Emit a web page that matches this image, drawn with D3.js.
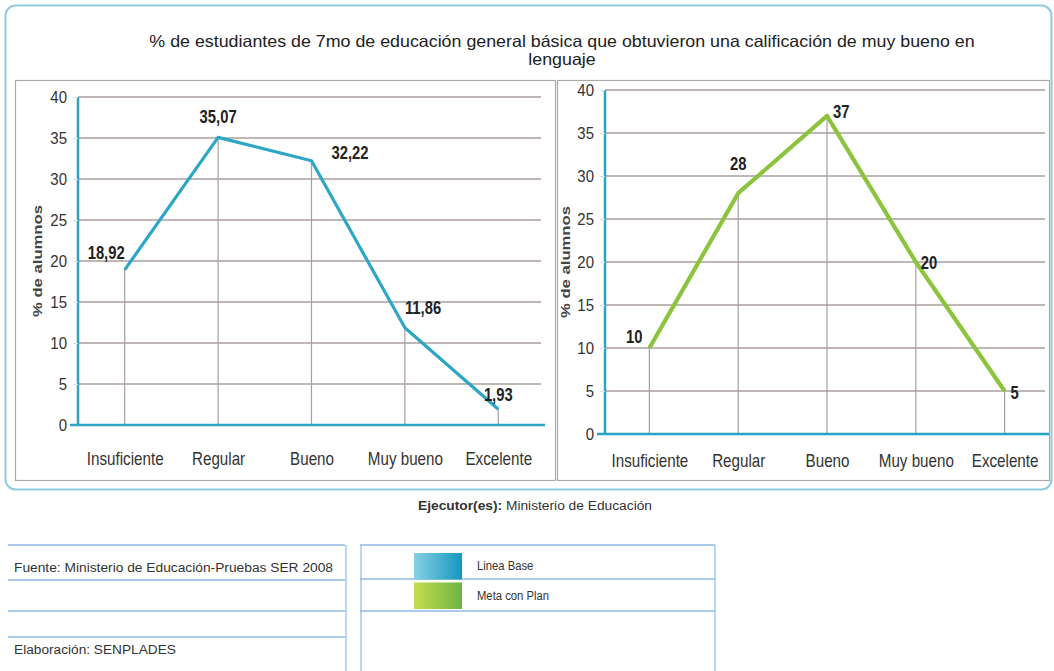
<!DOCTYPE html>
<html><head><meta charset="utf-8">
<script src="https://cdn.jsdelivr.net/npm/d3@7"></script>
<style>
body{margin:0;background:#fff;}
svg{display:block;}
</style></head>
<body>
<svg id="c" width="1054" height="671"></svg>
<script>
const categories = ["Insuficiente","Regular","Bueno","Muy bueno","Excelente"];
const lineaBase = [18.92, 35.07, 32.22, 11.86, 1.93];
const lineaBaseLabels = ["18,92","35,07","32,22","11,86","1,93"];
const metaPlan = [10, 28, 37, 20, 5];
const metaPlanLabels = ["10","28","37","20","5"];
const yTicks = [0,5,10,15,20,25,30,35,40];
const title = ["% de estudiantes de 7mo de educación general básica que obtuvieron una calificación de muy bueno en","lenguaje"];
const legendLabels = ["Linea Base","Meta con Plan"];
const legendColors = ["#2ea6c6","#8cc43e"];

const svg = d3.select("#c");
const SANS = "'Liberation Sans',Arial,sans-serif";

// condense/stretch text horizontally by a factor
function condense(sel, f){
  sel.each(function(){
    const w = this.getComputedTextLength();
    d3.select(this).attr("textLength", w*f).attr("lengthAdjust","spacingAndGlyphs");
  });
}

// gradients for legend
const defs = svg.append("defs");
const g1 = defs.append("linearGradient").attr("id","gb").attr("x1",0).attr("x2",1);
g1.append("stop").attr("offset","0").attr("stop-color","#86d0e5");
g1.append("stop").attr("offset","1").attr("stop-color","#1597bf");
const g2 = defs.append("linearGradient").attr("id","gg").attr("x1",0).attr("x2",1);
g2.append("stop").attr("offset","0").attr("stop-color","#c4dd4c");
g2.append("stop").attr("offset","1").attr("stop-color","#6db444");

// outer rounded box
svg.append("rect").attr("x",5.5).attr("y",5.5).attr("width",1046).attr("height",484)
  .attr("rx",10).attr("fill","#fff").attr("stroke","#8fcbe0").attr("stroke-width",2);

// title
const tt = svg.selectAll(".title").data(title).join("text")
  .attr("x",562).attr("y",(d,i)=>47+i*18).attr("text-anchor","middle")
  .attr("font-family",SANS).attr("font-size",16.5).attr("fill","#222").text(d=>d);
condense(tt, 1.08);

// panel boxes
svg.append("rect").attr("x",15.5).attr("y",80.5).attr("width",540).attr("height",400)
  .attr("fill","none").attr("stroke","#aaa").attr("stroke-width",1.2);
svg.append("rect").attr("x",557.5).attr("y",80.5).attr("width",492).attr("height",400)
  .attr("fill","none").attr("stroke","#aaa").attr("stroke-width",1.2);

function panel(cfg){
  const x = d3.scalePoint().domain(categories).range([cfg.x0,cfg.x1]).padding(0.5);
  const y = d3.scaleLinear().domain([0,40]).range([cfg.y0,cfg.y1]);
  const g = svg.append("g");
  // gridlines
  g.selectAll(".grid").data(yTicks.filter(t=>t>0)).join("line")
    .attr("x1",cfg.x0).attr("x2",cfg.x1-4).attr("y1",d=>y(d)).attr("y2",d=>y(d))
    .attr("stroke","#a89f9c").attr("stroke-width",1.5);
  // drop lines
  g.selectAll(".drop").data(cfg.values).join("line")
    .attr("x1",(d,i)=>x(categories[i])).attr("x2",(d,i)=>x(categories[i]))
    .attr("y1",d=>y(d)).attr("y2",y(0))
    .attr("stroke","#a89f9c").attr("stroke-width",1.2);
  // y axis
  const ya = d3.axisLeft(y).tickValues(yTicks).tickSize(6).tickPadding(5);
  const yg = g.append("g").attr("transform",`translate(${cfg.x0},0)`).call(ya);
  yg.select(".domain").attr("stroke","#2aa3c5").attr("stroke-width",2.5).attr("d",`M0,${y(0)}V${y(40)}`);
  yg.selectAll(".tick line").attr("stroke","#cfe3ea").attr("stroke-width",1).attr("x2",-5);
  const yt = yg.selectAll(".tick text").attr("font-family",SANS).attr("font-size",17).attr("fill","#333");
  condense(yt, 0.88);
  // x axis baseline
  const xa = d3.axisBottom(x).tickSize(0).tickPadding(cfg.xpad);
  const xg = g.append("g").attr("transform",`translate(0,${y(0)})`).call(xa);
  xg.select(".domain").attr("stroke","#2aa3c5").attr("stroke-width",2.5).attr("d",`M${cfg.x0-8},0H${cfg.x1}`);
  const xt = xg.selectAll(".tick text").attr("font-family",SANS).attr("font-size",18.5).attr("fill","#333");
  condense(xt, 0.82);
  // y label
  const yl = g.append("text").attr("transform",`translate(${cfg.ylx},${(y(0)+y(40))/2}) rotate(-90)`)
    .attr("text-anchor","middle").attr("font-family",SANS).attr("font-weight","bold")
    .attr("font-size",13.5).attr("fill","#444").text("% de alumnos");
  yl.attr("textLength",112).attr("lengthAdjust","spacingAndGlyphs");
  // line
  const line = d3.line().x((d,i)=>x(categories[i])).y(d=>y(d));
  g.append("path").datum(cfg.values).attr("d",line).attr("fill","none")
    .attr("stroke",cfg.color).attr("stroke-width",cfg.lw).attr("stroke-linejoin","round");
  // value labels
  const vl = g.selectAll(".vl").data(cfg.values).join("text")
    .attr("x",(d,i)=>x(categories[i])+cfg.lab[i][0]).attr("y",(d,i)=>y(d)+cfg.lab[i][1])
    .attr("text-anchor",(d,i)=>cfg.lab[i][2])
    .attr("font-family",SANS).attr("font-weight","bold").attr("font-size",18.5).attr("fill","#222")
    .text((d,i)=>cfg.labels[i]);
  condense(vl, 0.8);
}

panel({x0:78,x1:545,y0:425,y1:97,values:lineaBase,labels:lineaBaseLabels,color:"#2ea6c6",lw:3.2,
  xpad:27,ylx:42,
  lab:[[0,-11,"end"],[0,-14,"middle"],[20,-2,"start"],[0,-14,"start"],[0,-8,"middle"]]});
panel({x0:605,x1:1049,y0:434,y1:90,values:metaPlan,labels:metaPlanLabels,color:"#8cc43e",lw:4.2,
  xpad:20,ylx:570,
  lab:[[-7,-5,"end"],[0,-23,"middle"],[6,2,"start"],[5,7,"start"],[6,8,"start"]]});

// footer
const ej = svg.append("text").attr("x",535).attr("y",510).attr("text-anchor","middle")
  .attr("font-family",SANS).attr("font-size",12).attr("fill","#333")
  .attr("textLength",234).attr("lengthAdjust","spacingAndGlyphs");
ej.append("tspan").attr("font-weight","bold").text("Ejecutor(es): ");
ej.append("tspan").text("Ministerio de Educación");

const lc = "#8fb9e6";
[[8,345,545],[8,345,580],[8,345,611],[8,345,637],[360,715,545],[360,715,579],[360,715,611]].forEach(d=>{
  svg.append("line").attr("x1",d[0]).attr("x2",d[1]).attr("y1",d[2]).attr("y2",d[2])
    .attr("stroke",lc).attr("stroke-width",1.5);
});
svg.append("line").attr("x1",346).attr("x2",346).attr("y1",545).attr("y2",671).attr("stroke",lc).attr("stroke-width",1.2);
svg.append("line").attr("x1",361).attr("x2",361).attr("y1",545).attr("y2",671).attr("stroke",lc).attr("stroke-width",1.2);
svg.append("line").attr("x1",715).attr("x2",715).attr("y1",545).attr("y2",671).attr("stroke",lc).attr("stroke-width",1.2);

svg.append("text").attr("x",14).attr("y",572).attr("font-family",SANS).attr("font-size",12.5).attr("fill","#333")
  .attr("textLength",319).attr("lengthAdjust","spacingAndGlyphs")
  .text("Fuente: Ministerio de Educación-Pruebas SER 2008");
svg.append("text").attr("x",14).attr("y",654).attr("font-family",SANS).attr("font-size",12.5).attr("fill","#333")
  .attr("textLength",162).attr("lengthAdjust","spacingAndGlyphs")
  .text("Elaboración: SENPLADES");

const ly = d3.scaleBand().domain(legendLabels).range([553,609]).paddingInner(0.1);
svg.selectAll(".sw").data(legendLabels).join("rect")
  .attr("x",414).attr("y",d=>ly(d)).attr("width",48).attr("height",ly.bandwidth())
  .attr("fill",(d,i)=>i?"url(#gg)":"url(#gb)");
const lt = svg.selectAll(".lt").data(legendLabels).join("text")
  .attr("x",477).attr("y",d=>ly(d)+ly.bandwidth()/2+4)
  .attr("font-family",SANS).attr("font-size",12.5).attr("fill","#333").text(d=>d);
condense(lt, 0.9);
</script>
</body></html>
